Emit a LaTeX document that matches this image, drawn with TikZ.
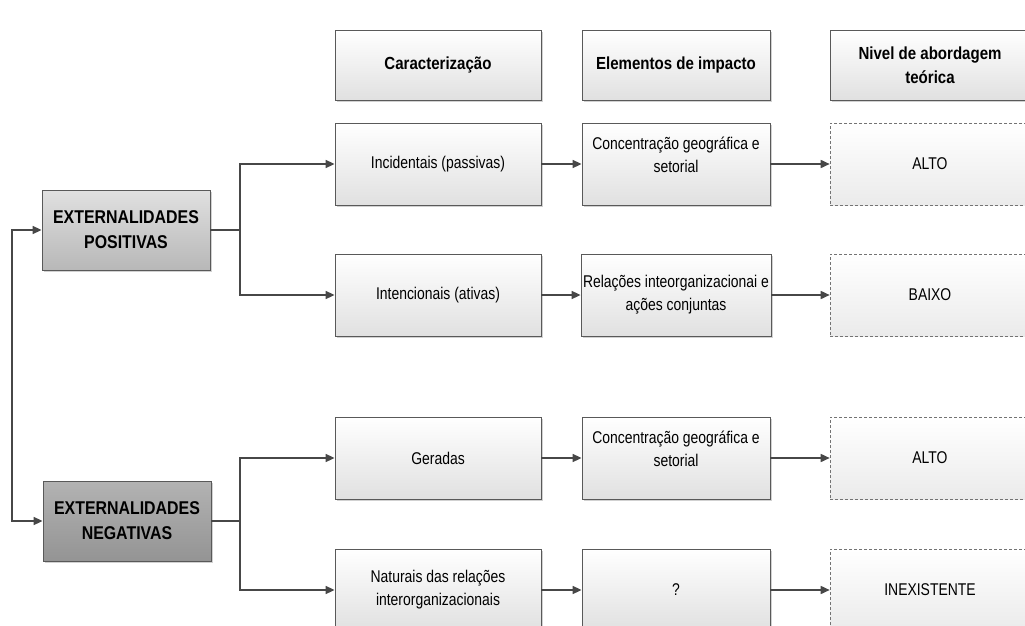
\documentclass[tikz,border=0pt]{standalone}
\usepackage{fontspec}
\setmainfont[FakeStretch=0.82, BoldFeatures={FakeStretch=0.86}]{Liberation Sans}
\usetikzlibrary{arrows.meta,shadows}
\begin{document}
\begin{tikzpicture}[x=1pt,y=-1pt,
  box/.style={draw=black!65, line width=0.8pt, top color=white, bottom color=black!12,
    drop shadow={shadow xshift=2pt,shadow yshift=-2pt,fill=black!30,opacity=0.6},
    align=center, font=\fontsize{17}{23}\selectfont, inner sep=2pt},
  hdr/.style={box, font=\bfseries\fontsize{17.5}{24}\selectfont, minimum height=70pt},
  c1/.style={box, minimum width=206pt, minimum height=82pt},
  c2/.style={box, minimum width=188pt, minimum height=82pt},
  c3/.style={draw=black!55, densely dashed, line width=0.6pt, top color=white, bottom color=black!8,
    align=center, font=\fontsize{17}{23}\selectfont, minimum width=200pt, minimum height=82pt},
  ext/.style={box, font=\bfseries\fontsize{18.5}{25}\selectfont, minimum width=168pt, minimum height=80pt},
  conn/.style={draw=black!72, line width=1.6pt},
  arr/.style={conn, -{Triangle[length=9pt,width=8pt]}},
]
\useasboundingbox (0,0) rectangle (1025,626);
% headers
\node[hdr, minimum width=206pt] (h1) at (438,65) {Caracterização};
\node[hdr, minimum width=188pt] (h2) at (676,65) {Elementos de impacto};
\node[hdr, minimum width=200pt] (h3) at (930,65) {Nivel de abordagem\\teórica};
% left boxes
\node[ext, top color=black!12, bottom color=black!28] (pos) at (126,230) {EXTERNALIDADES\\POSITIVAS};
\node[ext, top color=black!30, bottom color=black!42] (neg) at (127,521) {EXTERNALIDADES\\NEGATIVAS};
% rows
\node[c1] (a1) at (438,164) {Incidentais (passivas)};
\node[c2] (b1) at (676,164) {Concentração geográfica e\\setorial\\[-4pt]\mbox{}};
\node[c3] (d1) at (930,164) {ALTO};
\node[c1] (a2) at (438,295) {Intencionais (ativas)};
\node[c2] (b2) at (676,295) {Relações inteorganizacionai e\\ações conjuntas};
\node[c3] (d2) at (930,295) {BAIXO};
\node[c1] (a3) at (438,458) {Geradas};
\node[c2] (b3) at (676,458) {Concentração geográfica e\\setorial\\[-4pt]\mbox{}};
\node[c3] (d3) at (930,458) {ALTO};
\node[c1] (a4) at (438,590) {Naturais das relações\\interorganizacionais};
\node[c2] (b4) at (676,590) {?};
\node[c3] (d4) at (930,590) {INEXISTENTE};
% connectors
\coordinate (jp) at (240,230);
\coordinate (jn) at (240,521);
\coordinate (lt) at (12,230);
\coordinate (lb) at (12,521);
\draw[conn] (pos.east) -- (jp);
\draw[arr] (jp) |- (a1.west);
\draw[arr] (jp) |- (a2.west);
\draw[conn] (neg.east) -- (jn);
\draw[arr] (jn) |- (a3.west);
\draw[arr] (jn) |- (a4.west);
\draw[conn, {Triangle[length=9pt,width=8pt]}-{Triangle[length=9pt,width=8pt]}] (pos.west) -- (lt) -- (lb) -- (neg.west);
\foreach \r in {1,2,3,4}{
  \draw[arr] (a\r.east) -- (a\r.east -| b\r.west);
  \draw[arr] (b\r.east) -- (b\r.east -| d\r.west);
}
\end{tikzpicture}
\end{document}
